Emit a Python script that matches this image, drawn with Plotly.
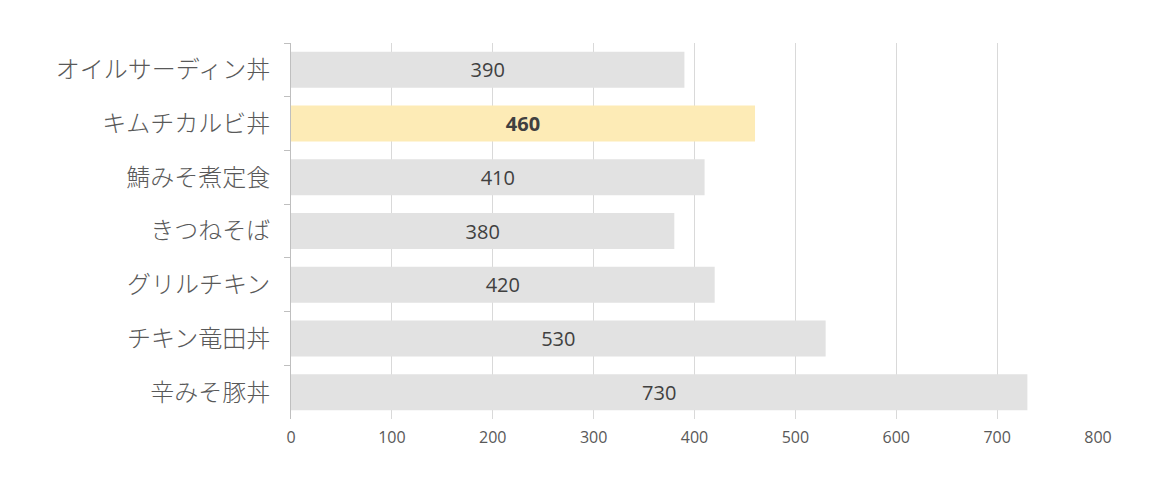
import plotly.graph_objects as go

categories = ["オイルサーディン丼", "キムチカルビ丼", "鯖みそ煮定食", "きつねそば", "グリルチキン", "チキン竜田丼", "辛みそ豚丼"]
values = [390, 460, 410, 380, 420, 530, 730]
highlight = "キムチカルビ丼"
x_ticks = [0, 100, 200, 300, 400, 500, 600, 700, 800]

colors = ["#FDEBB6" if c == highlight else "#E2E2E2" for c in categories]
labels = [f"<b>{v}</b>" if c == highlight else str(v) for c, v in zip(categories, values)]

fig = go.Figure(go.Bar(
    x=values, y=categories, orientation="h",
    marker=dict(color=colors, line=dict(width=0)),
    text=labels, textposition="inside", insidetextanchor="middle",
    textangle=0,
    textfont=dict(family="Open Sans, Noto Sans", size=20, color="#404040"),
    hoverinfo="skip",
))

fig.update_layout(
    width=1164, height=483,
    margin=dict(l=283, r=74, t=35, b=72),
    paper_bgcolor="white", plot_bgcolor="white",
    bargap=0.33, showlegend=False,
)
fig.update_xaxes(
    range=[0, 800], tickvals=x_ticks, showgrid=True, gridcolor="#D9D9D9", gridwidth=1,
    zeroline=False, showline=False, ticks="",
    tickfont=dict(family="Open Sans, Noto Sans", size=16, color="#595959"),
    ticklabelstandoff=7,
)
fig.update_yaxes(
    type="category", autorange="reversed", showgrid=False,
    showline=True, linecolor="#BFBFBF", linewidth=1,
    ticks="outside", tickson="boundaries", ticklen=6, tickcolor="#BFBFBF",
    tickfont=dict(family="Noto Sans CJK JP", size=24, color="#595959", weight=300),
    ticklabelstandoff=15,
)

fig.write_html("out.html")
